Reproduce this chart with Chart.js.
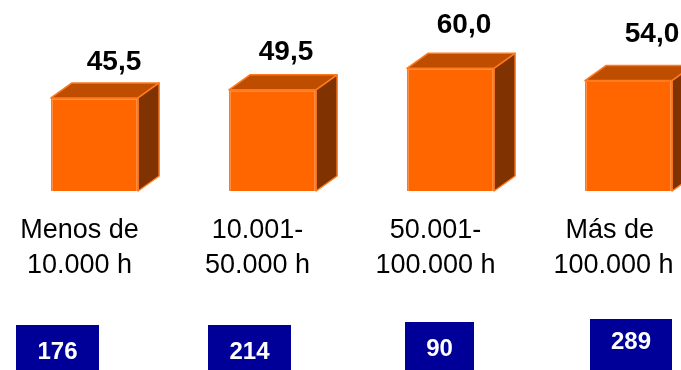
<!DOCTYPE html>
<html>
<head>
<meta charset="utf-8">
<script src="https://cdn.jsdelivr.net/npm/chart.js@4.4.1/dist/chart.umd.min.js"></script>
<style>
  html, body { margin: 0; padding: 0; background: #fff; }
  canvas { display: block; }
</style>
</head>
<body>
<canvas id="horas-chart" width="681" height="370"></canvas>
<script>
// tramos de horas, valor medio de cada tramo y nº de casos
var categorias = [["Menos de", "10.000 h"], ["10.001-", "50.000 h"], ["50.001-", "100.000 h"], ["Más de ", "100.000 h"]];
var valores = [45.5, 49.5, 60.0, 54.0];
var casos = [176, 214, 90, 289];

var FUENTE = '"Liberation Sans", Arial, sans-serif';

function fmt(v) {
    return v.toFixed(1).replace('.', ',');
}

// caras superior y lateral de cada barra, etiqueta de valor y caja de casos
var cubos3d = {
    id: 'cubos3d',
    afterDatasetsDraw: function(chart, args, opts) {
        var ctx = chart.ctx;
        var meta = chart.getDatasetMeta(0);
        var dx = opts.dx, dy = opts.dy;
        ctx.save();
        ctx.lineJoin = 'round';
        ctx.lineWidth = 1.5;
        ctx.strokeStyle = opts.borde;
        meta.data.forEach(function(bar, i) {
            var l = bar.x - bar.width / 2;
            var r = bar.x + bar.width / 2;
            var t = bar.y;
            var b = bar.base;

            // tapa
            ctx.beginPath();
            ctx.moveTo(l, t);
            ctx.lineTo(l + dx, t - dy);
            ctx.lineTo(r + dx, t - dy);
            ctx.lineTo(r, t);
            ctx.closePath();
            ctx.fillStyle = opts.tapa;
            ctx.fill();
            ctx.stroke();

            // lateral
            ctx.beginPath();
            ctx.moveTo(r, t);
            ctx.lineTo(r + dx, t - dy);
            ctx.lineTo(r + dx, b - dy);
            ctx.lineTo(r, b);
            ctx.closePath();
            ctx.fillStyle = opts.lateral;
            ctx.fill();
            ctx.stroke();

            // valor
            var ajuste = opts.etiquetas[i];
            ctx.fillStyle = '#000';
            ctx.font = 'bold 28px ' + FUENTE;
            ctx.textAlign = 'center';
            ctx.textBaseline = 'middle';
            ctx.fillText(fmt(valores[i]), bar.x + ajuste[0], t - dy - ajuste[1]);

            // caja con el nº de casos
            var caja = opts.cajas[i];
            var cx = bar.x + caja[0];
            ctx.fillStyle = '#000099';
            ctx.fillRect(cx - caja[1] / 2, caja[2], caja[1], chart.height - caja[2]);
            ctx.fillStyle = '#fff';
            ctx.font = 'bold 24px ' + FUENTE;
            ctx.fillText(String(casos[i]), cx, caja[2] + caja[3]);
        });
        ctx.restore();
    }
};

new Chart(document.getElementById('horas-chart'), {
    type: 'bar',
    data: {
        labels: categorias,
        datasets: [{
            data: valores,
            backgroundColor: '#FF6600',
            borderColor: '#FF7A1F',
            borderWidth: 1.5,
            barPercentage: 0.49,
            categoryPercentage: 1,
            clip: false
        }]
    },
    options: {
        responsive: false,
        animation: false,
        layout: {
            padding: { left: 94.5, right: 52.5, top: 7, bottom: 0 }
        },
        plugins: {
            legend: { display: false },
            tooltip: { enabled: false },
            cubos3d: {
                dx: 21,
                dy: 15,
                tapa: '#BF4D00',
                lateral: '#803300',
                borde: '#FF7A1F',
                // [desplazamiento x, altura sobre la tapa]
                etiquetas: [[19.5, 21], [13.5, 23], [13.5, 28], [23.5, 31]],
                // [desplazamiento x, ancho, y superior, y del texto]
                cajas: [[-37, 83, 325, 27], [-23, 83, 325, 27], [-11, 69, 322, 27], [2.5, 82, 319, 23]]
            }
        },
        scales: {
            x: {
                offset: false,
                grid: { display: false, drawTicks: false },
                border: { display: false },
                ticks: {
                    color: '#000',
                    padding: 22,
                    labelOffset: -15,
                    maxRotation: 0,
                    autoSkip: false,
                    font: { family: FUENTE, size: 27, lineHeight: 1.3 }
                },
                afterFit: function(scale) {
                    scale.height = 179;
                    scale.paddingLeft = 0;
                    scale.paddingRight = 0;
                }
            },
            y: {
                display: false,
                min: 0,
                max: 90
            }
        }
    },
    plugins: [cubos3d]
});
</script>
</body>
</html>
